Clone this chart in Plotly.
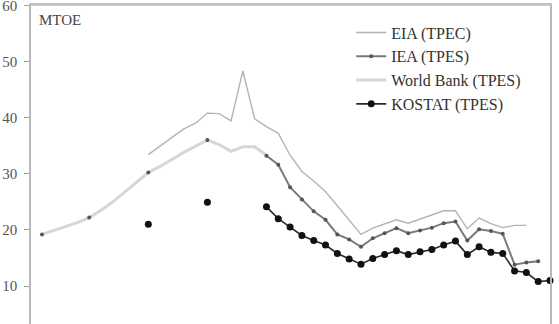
import plotly.graph_objects as go

years = list(range(1971, 2015))

# values by year (None = no data)
eia_years = list(range(1980, 2013))
eia_vals = [33.4, 34.9, 36.5, 38.0, 39.0, 40.8, 40.7, 39.4, 48.3, 39.8,
            38.4, 37.2, 33.3, 30.4, 28.7, 26.8, 24.3, 21.7, 19.2, 20.3,
            21.0, 21.8, 21.2, 21.9, 22.6, 23.4, 23.4, 20.2, 22.1, 21.1,
            20.4, 20.8, 20.8]

iea_years = [1971, 1975, 1980, 1985] + list(range(1990, 2014))
iea_vals = [19.2, 22.2, 30.2, 36.0,
            33.2, 31.6, 27.6, 25.4, 23.3, 21.8, 19.2, 18.3, 17.0, 18.5,
            19.4, 20.3, 19.4, 19.9, 20.4, 21.2, 21.5, 18.1, 20.1, 19.8,
            19.3, 13.8, 14.2, 14.4]

wb_years = list(range(1971, 1991))
wb_vals = [19.2, 19.9, 20.5, 21.3, 22.2, 23.5, 25.0, 26.7, 28.5, 30.2,
           31.3, 32.6, 33.8, 34.9, 36.0, 35.2, 34.0, 34.8, 34.8, 33.3]

kostat_years = [1980, 1985] + list(range(1990, 2015))
kostat_vals = [21.0, 24.9,
               24.1, 22.0, 20.5, 19.0, 18.1, 17.3, 15.8, 14.8, 13.9, 14.9,
               15.6, 16.3, 15.6, 16.1, 16.5, 17.3, 18.0, 15.6, 17.0, 16.0,
               15.8, 12.7, 12.4, 10.8, 11.0]

y_ticks = [10, 20, 30, 40, 50, 60]

SERIF = "Times New Roman, Liberation Serif, serif"


def full(ys, vs):
    d = dict(zip(ys, vs))
    return [d.get(y) for y in years]


fig = go.Figure()
fig.add_trace(go.Scatter(x=years, y=full(eia_years, eia_vals), name="EIA (TPEC)",
                         mode="lines", line=dict(color="#b4b4b4", width=1.4),
                         legendrank=1))
fig.add_trace(go.Scatter(x=years, y=full(wb_years, wb_vals), name="World Bank (TPES)",
                         mode="lines", line=dict(color="#d6d6d6", width=3),
                         legendrank=3))
fig.add_trace(go.Scatter(x=years, y=full(iea_years, iea_vals), name="IEA (TPES)",
                         mode="lines+markers", line=dict(color="#7a7a7a", width=2),
                         marker=dict(color="#555555", size=4),
                         legendrank=2))
fig.add_trace(go.Scatter(x=years, y=full(kostat_years, kostat_vals), name="KOSTAT (TPES)",
                         mode="lines+markers", line=dict(color="#2a2a2a", width=1.6),
                         marker=dict(color="#111111", size=7),
                         cliponaxis=False, legendrank=4))

fig.update_layout(
    width=559, height=324,
    margin=dict(l=31, r=9, t=5, b=0, autoexpand=False),
    paper_bgcolor="white", plot_bgcolor="white",
    font=dict(family=SERIF, color="#555555", size=13),
    showlegend=True,
    legend=dict(x=0.617, y=0.967, xanchor="left", yanchor="top",
                font=dict(family=SERIF, size=16, color="#333333"),
                bgcolor="rgba(0,0,0,0)", itemwidth=30, tracegroupgap=0),
    xaxis=dict(range=[1970.07, 2014.0], showgrid=False, zeroline=False,
               showticklabels=False, ticks="", side="top", automargin=False,
               showline=True, linecolor="#c0c0c0", linewidth=1.5),
    yaxis=dict(range=[3.24, 60.05], tickvals=y_ticks, showgrid=False, zeroline=False,
               ticks="outside", ticklen=5, tickcolor="#a0a0a0", automargin=False,
               ticklabelstandoff=4, ticklabeloverflow="allow",
               showline=True, mirror=True, linecolor="#b8b8b8", linewidth=1.5,
               tickfont=dict(family=SERIF, size=15, color="#555555")),
    shapes=[dict(type="line", xref="paper", yref="paper", x0=0, x1=1, y0=1, y1=1,
                 line=dict(color="#c0c0c0", width=1.5))],
    annotations=[dict(text="MTOE", x=0.012, y=0.985, xref="paper", yref="paper",
                      xanchor="left", yanchor="top", showarrow=False,
                      font=dict(family=SERIF, size=15, color="#444444"))],
)

fig.write_html("out.html")
